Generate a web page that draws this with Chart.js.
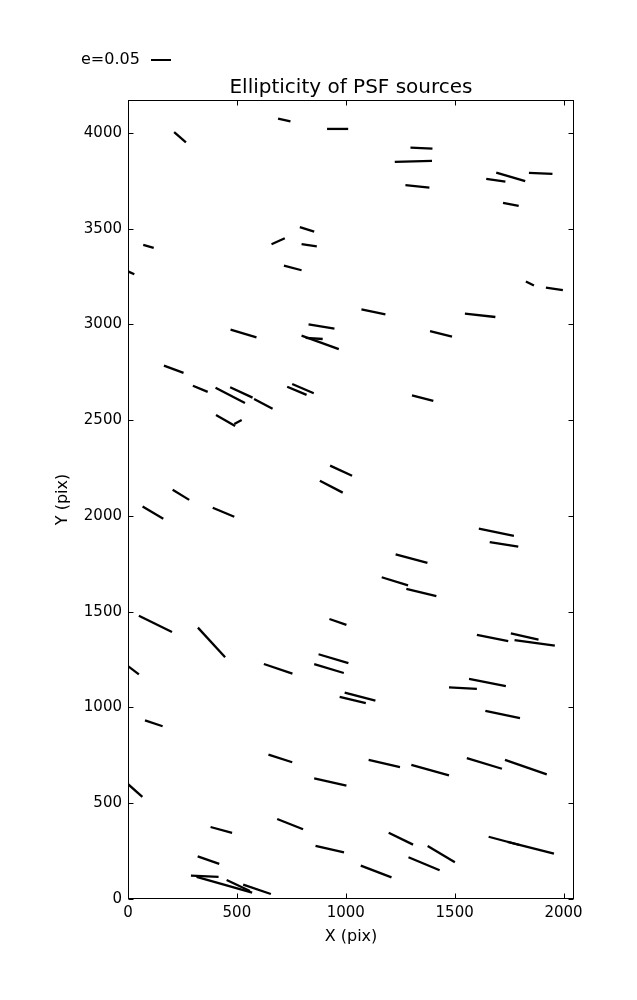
<!DOCTYPE html>
<html>
<head>
<meta charset="utf-8">
<script src="https://cdn.jsdelivr.net/npm/chart.js@4"></script>
<style>
  body { margin: 0; background: #fff; }
  #wrap { width: 637px; height: 1000px; position: relative; }
</style>
</head>
<body>
<div id="wrap"><canvas id="psf"></canvas></div>
<script>
// whisker end points, in pixel coordinates of the CCD (X, Y)
const xStart = [212, 689, 914, 1297, 1225, 1274, 1691, 1645, 1841, 1722, 70, 659, 789, 797, 716, -15, 1827, 1919,
  471, 829, 797, 816, 165, 298, 402, 469, 579, 731, 754, 404, 488, 205, 881, 928, 1072, 1547, 1387, 1304,
  67, 389, 50, 321, -5, 624, 855, 875, 925, 995, 972, 1611, 1661, 1229, 1165, 1278, 1602, 1758, 1775, 1566, 1474,
  78, 645, 855, -5, 685, 861, 379, 320, 289, 315, 453, 529, 1641, 1105, 1301, 1556, 1731, 1197, 1376, 1288, 1069, 1656, 1743];
const yStart = [4004, 4075, 4021, 3923, 3849, 3728, 3793, 3760, 3791, 3635, 3415, 3419, 3508, 3419, 3307, 3285, 3224, 3192,
  2973, 3001, 2942, 2930, 2785, 2680, 2670, 2672, 2611, 2675, 2689, 2527, 2480, 2137, 2184, 2263, 3079, 3056, 2965, 2630,
  2049, 2043, 1479, 1417, 1220, 1227, 1226, 1278, 1462, 1077, 1055, 1934, 1864, 1800, 1680, 1619, 1379, 1387, 1352, 1149, 1105,
  933, 754, 630, 605, 418, 277, 376, 223, 122, 116, 99, 75, 982, 727, 700, 736, 726, 346, 277, 218, 174, 325, 298];
const xEnd = [266, 746, 1011, 1398, 1396, 1384, 1824, 1733, 1949, 1794, 118, 720, 855, 867, 797, 29, 1864, 1997,
  590, 948, 968, 894, 255, 366, 537, 572, 664, 820, 853, 492, 522, 281, 986, 1029, 1182, 1687, 1488, 1402,
  162, 488, 202, 446, 50, 755, 991, 1012, 1003, 1136, 1092, 1772, 1792, 1375, 1286, 1416, 1746, 1885, 1960, 1735, 1602,
  159, 754, 1003, 66, 804, 992, 478, 419, 416, 570, 560, 656, 1800, 1249, 1474, 1717, 1923, 1309, 1501, 1431, 1210, 1798, 1956];
const yEnd = [3951, 4061, 4021, 3918, 3854, 3714, 3748, 3746, 3786, 3619, 3400, 3450, 3485, 3408, 3283, 3262, 3203, 3179,
  2933, 2978, 2871, 2924, 2747, 2648, 2590, 2618, 2560, 2632, 2641, 2470, 2501, 2084, 2122, 2210, 3053, 3039, 2936, 2601,
  1986, 1996, 1394, 1262, 1173, 1177, 1180, 1232, 1431, 1036, 1023, 1896, 1840, 1755, 1638, 1582, 1347, 1354, 1323, 1112, 1097,
  902, 714, 592, 533, 364, 244, 345, 183, 115, 33, 42, 26, 945, 688, 646, 680, 651, 284, 192, 150, 113, 282, 237];

const xTicks = [0, 500, 1000, 1500, 2000];
const yTicks = [0, 500, 1000, 1500, 2000, 2500, 3000, 3500, 4000];
const keyLabel = 'e=0.05';

const FONT = 'DejaVu Sans';

const datasets = xStart.map((x0, i) => ({
  data: [{ x: x0, y: yStart[i] }, { x: xEnd[i], y: yEnd[i] }],
  showLine: true,
  borderColor: '#000',
  borderWidth: 2.3,
  pointRadius: 0,
  clip: 0,
}));

// frame, inward ticks and the texts around the axes
const decor = {
  id: 'decor',
  afterDraw(chart) {
    const { ctx, chartArea: a, scales: { x, y } } = chart;
    ctx.save();
    ctx.strokeStyle = '#000';
    ctx.lineWidth = 1;
    const L = Math.round(a.left) + 0.5, R = Math.round(a.right) - 0.5;
    const T = Math.round(a.top) + 0.5, B = Math.round(a.bottom) - 0.5;
    ctx.strokeRect(L, T, R - L, B - T);
    ctx.beginPath();
    xTicks.forEach(v => {
      const px = Math.round(x.getPixelForValue(v)) + 0.5;
      ctx.moveTo(px, B); ctx.lineTo(px, B - 5);
      ctx.moveTo(px, T); ctx.lineTo(px, T + 5);
    });
    yTicks.forEach(v => {
      const py = Math.round(y.getPixelForValue(v)) + 0.5;
      ctx.moveTo(L, py); ctx.lineTo(L + 5, py);
      ctx.moveTo(R, py); ctx.lineTo(R - 5, py);
    });
    ctx.stroke();

    ctx.fillStyle = '#000';
    ctx.textAlign = 'center';
    ctx.textBaseline = 'alphabetic';
    ctx.font = '20px "' + FONT + '"';
    ctx.fillText('Ellipticity of PSF sources', (a.left + a.right) / 2, 93);

    ctx.font = '16px "' + FONT + '"';
    ctx.textBaseline = 'middle';
    ctx.fillText('X (pix)', (a.left + a.right) / 2, 937);
    ctx.save();
    ctx.translate(63, (a.top + a.bottom) / 2);
    ctx.rotate(-Math.PI / 2);
    ctx.fillText('Y (pix)', 0, 0);
    ctx.restore();

    // quiver key
    ctx.textAlign = 'left';
    ctx.fillText(keyLabel, 81, 60);
    ctx.lineWidth = 2;
    ctx.beginPath();
    ctx.moveTo(151, 60); ctx.lineTo(171, 60);
    ctx.stroke();
    ctx.restore();
  }
};

new Chart(document.getElementById('psf'), {
  type: 'scatter',
  data: { datasets },
  options: {
    animation: false,
    responsive: true,
    maintainAspectRatio: false,
    layout: { padding: { top: 100, right: 63, left: 0, bottom: 0 } },
    plugins: {
      legend: { display: false },
      tooltip: { enabled: false },
    },
    scales: {
      x: {
        type: 'linear',
        min: 0,
        max: 2048,
        grid: { display: false, drawTicks: false },
        border: { display: false },
        afterFit: (s) => { s.height = 101; },
        afterBuildTicks: (s) => { s.ticks = xTicks.map(v => ({ value: v })); },
        ticks: { color: '#000', padding: 5, maxRotation: 0, callback: (v) => String(v), font: { family: FONT, size: 15 } },
      },
      y: {
        type: 'linear',
        min: 0,
        max: 4172,
        grid: { display: false, drawTicks: false },
        border: { display: false },
        afterFit: (s) => { s.width = 128; },
        afterBuildTicks: (s) => { s.ticks = yTicks.map(v => ({ value: v })); },
        ticks: { color: '#000', padding: 6, callback: (v) => String(v), font: { family: FONT, size: 15 } },
      },
    },
  },
  plugins: [decor],
});
</script>
</body>
</html>
